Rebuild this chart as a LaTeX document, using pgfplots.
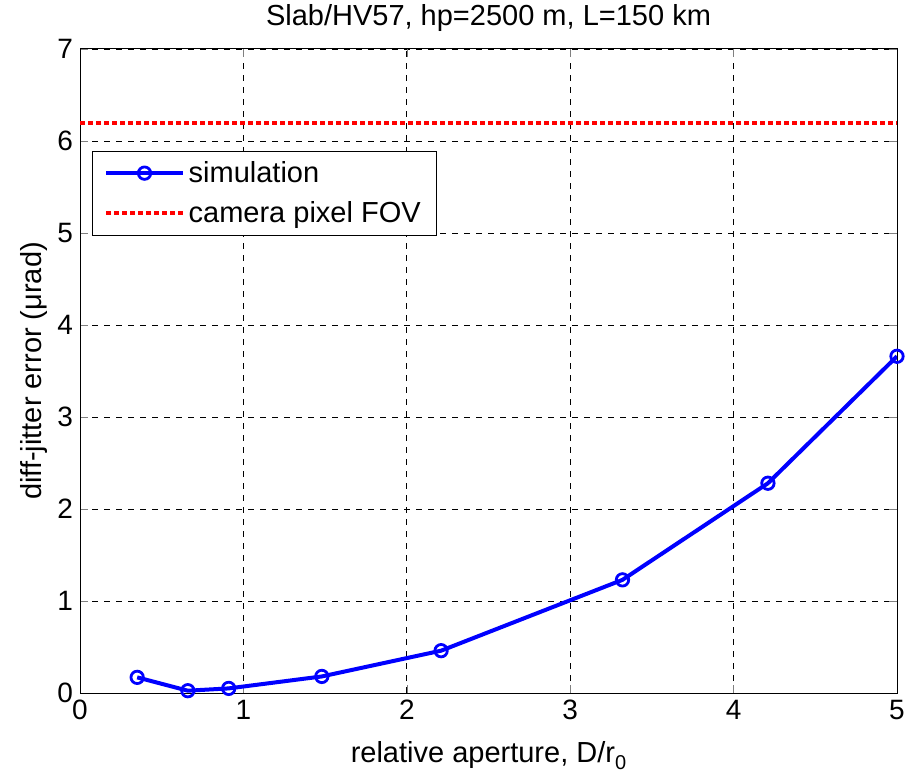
\documentclass[border=0pt]{standalone}
\usepackage{pgfplots}
\pgfplotsset{compat=1.18}
\usepackage{fontspec}
\setmainfont{Liberation Sans}
\begin{document}
\begin{tikzpicture}
\begin{axis}[
  name=ax,
  scale only axis,
  width=408.5pt, height=322pt,
  xmin=0, xmax=5, ymin=0, ymax=7,
  xtick={0,1,2,3,4,5}, ytick={0,1,2,3,4,5,6,7},
  /pgf/number format/assume math mode=true,
  tick label style={font=\fontsize{14}{16}\selectfont},
  label style={font=\fontsize{14.5}{16}\selectfont},
  title style={font=\fontsize{14.5}{16}\selectfont, yshift=-1pt},
  title={Slab/HV57, hp=2500 m, L=150 km},
  xlabel={relative aperture, D/r\raisebox{-0.45ex}{\fontsize{10}{11}\selectfont 0}},
  ylabel={diff-jitter error (μrad)},
  xlabel style={yshift=-4pt},
  ylabel style={yshift=-2pt},
  grid=major,
  major grid style={black, dashed, line width=0.4pt},
  tick align=inside,
  tick pos=both,
  major tick length=4pt,
  axis line style={black, line width=0.5pt},
  legend style={at={(0.0147,0.842)}, anchor=north west, draw=black,
     font=\fontsize{14.5}{16}\selectfont, row sep=4pt, inner xsep=6pt, inner ysep=3pt,
     legend cell align=left},
  legend image code/.code={\draw[#1] (0cm,0cm) -- (1.34cm,0cm); \path[#1] plot coordinates {(0.67cm,0cm)};},
]
\addplot[blue, line width=2pt, mark=o, mark size=3.1pt, mark options={line width=1.4pt, solid}] coordinates {
  (0.35,0.17) (0.66,0.025) (0.91,0.05) (1.48,0.18) (2.21,0.46)
  (3.32,1.23) (4.21,2.28) (5.0,3.66)
};
\addlegendentry{simulation}
\addplot[red, line width=2pt, dash pattern=on 2.4pt off 1.6pt, mark=none] coordinates {(0,6.2) (5,6.2)};
\addlegendentry{camera pixel FOV}
\end{axis}
\pgfresetboundingbox
\path ([xshift=-40pt,yshift=-42.5pt]ax.south west) rectangle ([xshift=4pt,yshift=24.5pt]ax.north east);
\end{tikzpicture}
\end{document}
